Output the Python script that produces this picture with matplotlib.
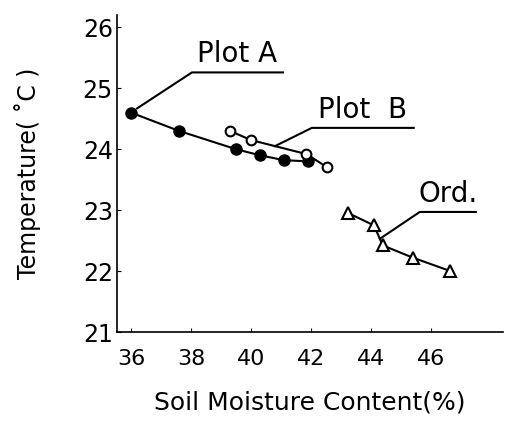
import numpy as np
import matplotlib.pyplot as plt

plt.rcParams['font.family'] = ['DejaVu Sans']

# data
plot_a_x = [36.0, 37.6, 39.5, 40.3, 41.1, 41.9]
plot_a_y = [24.6, 24.3, 24.0, 23.9, 23.82, 23.8]

plot_b_x = [39.3, 40.0, 41.85, 42.55]
plot_b_y = [24.3, 24.15, 23.92, 23.7]

ord_x = [43.25, 44.1, 44.4, 45.4, 46.65]
ord_y = [22.95, 22.75, 22.42, 22.22, 22.0]

x_ticks = [36, 38, 40, 42, 44, 46]
y_ticks = [21, 22, 23, 24, 25, 26]


def on_line(xs, ys, x):
    return x, np.interp(x, xs, ys)


fig = plt.figure(figsize=(5.12, 4.21), dpi=100)
ax = fig.add_axes([0.2285, 0.2114, 0.7535, 0.7526])

lw = 1.5
ax.plot(plot_a_x, plot_a_y, color='black', lw=lw, marker='o', ms=8,
        mfc='black', mec='black')
ax.plot(plot_b_x, plot_b_y, color='black', lw=lw, marker='o', ms=7,
        mfc='white', mec='black', mew=1.5)
ax.plot(ord_x, ord_y, color='black', lw=lw, marker='^', ms=8,
        mfc='white', mec='black', mew=1.5)

# leader lines with underlined labels
labels = [
    ('Plot A', (plot_a_x[0] + 0.2, plot_a_y[0] + 0.07), 38.03, 41.07, 25.26),
    ('Plot  B', on_line(plot_b_x, plot_b_y, 40.8), 42.03, 45.43, 24.35),
    ('Ord.', on_line(ord_x, ord_y, 44.3), 45.63, 47.5, 22.97),
]
for text, (tx, ty), u0, u1, uy in labels:
    ax.plot([tx, u0, u1], [ty, uy, uy], color='black', lw=lw)
    ax.text((u0 + u1) / 2, uy + 0.07, text, ha='center', va='bottom',
            fontsize=20)

ax.set_xlim(35.53, 48.4)
ax.set_ylim(21, 26.2)
ax.set_xticks(x_ticks)
ax.set_yticks(y_ticks)
ax.tick_params(axis='x', direction='in', length=3, labelsize=16, pad=12)
ax.tick_params(axis='y', direction='in', length=3, labelsize=17, pad=3)
for s in ['top', 'right']:
    ax.spines[s].set_visible(False)
for s in ['left', 'bottom']:
    ax.spines[s].set_linewidth(1.2)

ax.set_xlabel('Soil Moisture Content(%)', fontsize=18, labelpad=16)
ax.set_ylabel('Temperature( \u02daC )', fontsize=17, labelpad=30)

fig.savefig('out.png', dpi=100)
